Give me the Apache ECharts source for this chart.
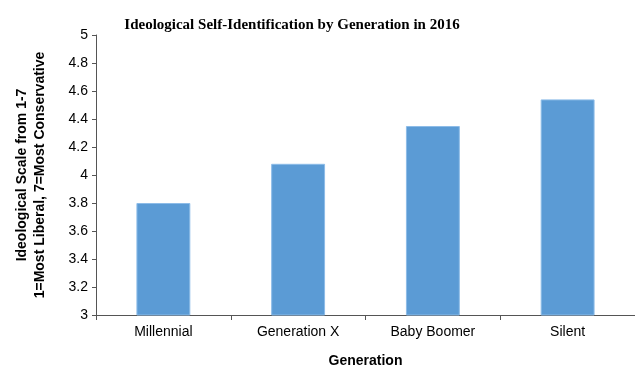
<!DOCTYPE html>
<html>
<head>
<meta charset="utf-8">
<script src="https://cdn.jsdelivr.net/npm/echarts@6/dist/echarts.min.js"></script>
<style>
  html, body { margin: 0; padding: 0; background: #fff; }
  #chart-box { width: 635px; height: 368px; }
</style>
</head>
<body>
<div id="chart-box"></div>
<script>
const generations = ['Millennial', 'Generation X', 'Baby Boomer', 'Silent'];
const ideologyScores = [3.80, 4.08, 4.35, 4.54];

const chartObj = echarts.init(document.getElementById('chart-box'));
const option = {
  animation: false,
  title: {
    text: 'Ideological Self-Identification by Generation in 2016',
    left: 287,
    textAlign: 'center',
    top: 13,
    textStyle: {
      fontFamily: 'Liberation Serif',
      fontWeight: 'bold',
      fontSize: 15,
      color: '#000'
    }
  },
  grid: {
    left: 96,
    right: 0,
    top: 35,
    bottom: 53,
    containLabel: false,
    outerBoundsMode: 'none'
  },
  xAxis: {
    type: 'category',
    data: generations,
    name: 'Generation',
    nameLocation: 'middle',
    nameGap: 39,
    nameTextStyle: {
      fontFamily: 'Liberation Sans',
      fontWeight: 'bold',
      fontSize: 14,
      color: '#000'
    },
    axisLine: { lineStyle: { color: '#555', width: 1 } },
    axisTick: { show: true, length: 5, lineStyle: { color: '#555' } },
    axisLabel: {
      fontFamily: 'Liberation Sans',
      fontSize: 14,
      color: '#000',
      margin: 10
    }
  },
  yAxis: {
    type: 'value',
    min: 3,
    max: 5,
    interval: 0.2,
    name: 'Ideological Scale from 1-7\n1=Most Liberal, 7=Most Conservative',
    nameLocation: 'middle',
    nameGap: 47,
    nameTextStyle: {
      fontFamily: 'Liberation Sans',
      fontWeight: 'bold',
      fontSize: 14,
      lineHeight: 18,
      color: '#000'
    },
    axisLine: { show: true, lineStyle: { color: '#555', width: 1 } },
    axisTick: { show: true, length: 4, lineStyle: { color: '#555' } },
    splitLine: { show: false },
    axisLabel: {
      fontFamily: 'Liberation Sans',
      fontSize: 14,
      color: '#000',
      margin: 8,
      formatter: function (v) { return String(Math.round(v * 10) / 10); }
    }
  },
  series: [
    {
      type: 'bar',
      data: ideologyScores,
      barWidth: '40%',
      itemStyle: {
        color: '#5B9BD5',
        borderColor: '#8DBCE8',
        borderWidth: 1
      }
    }
  ]
};
chartObj.setOption(option);
</script>
</body>
</html>
